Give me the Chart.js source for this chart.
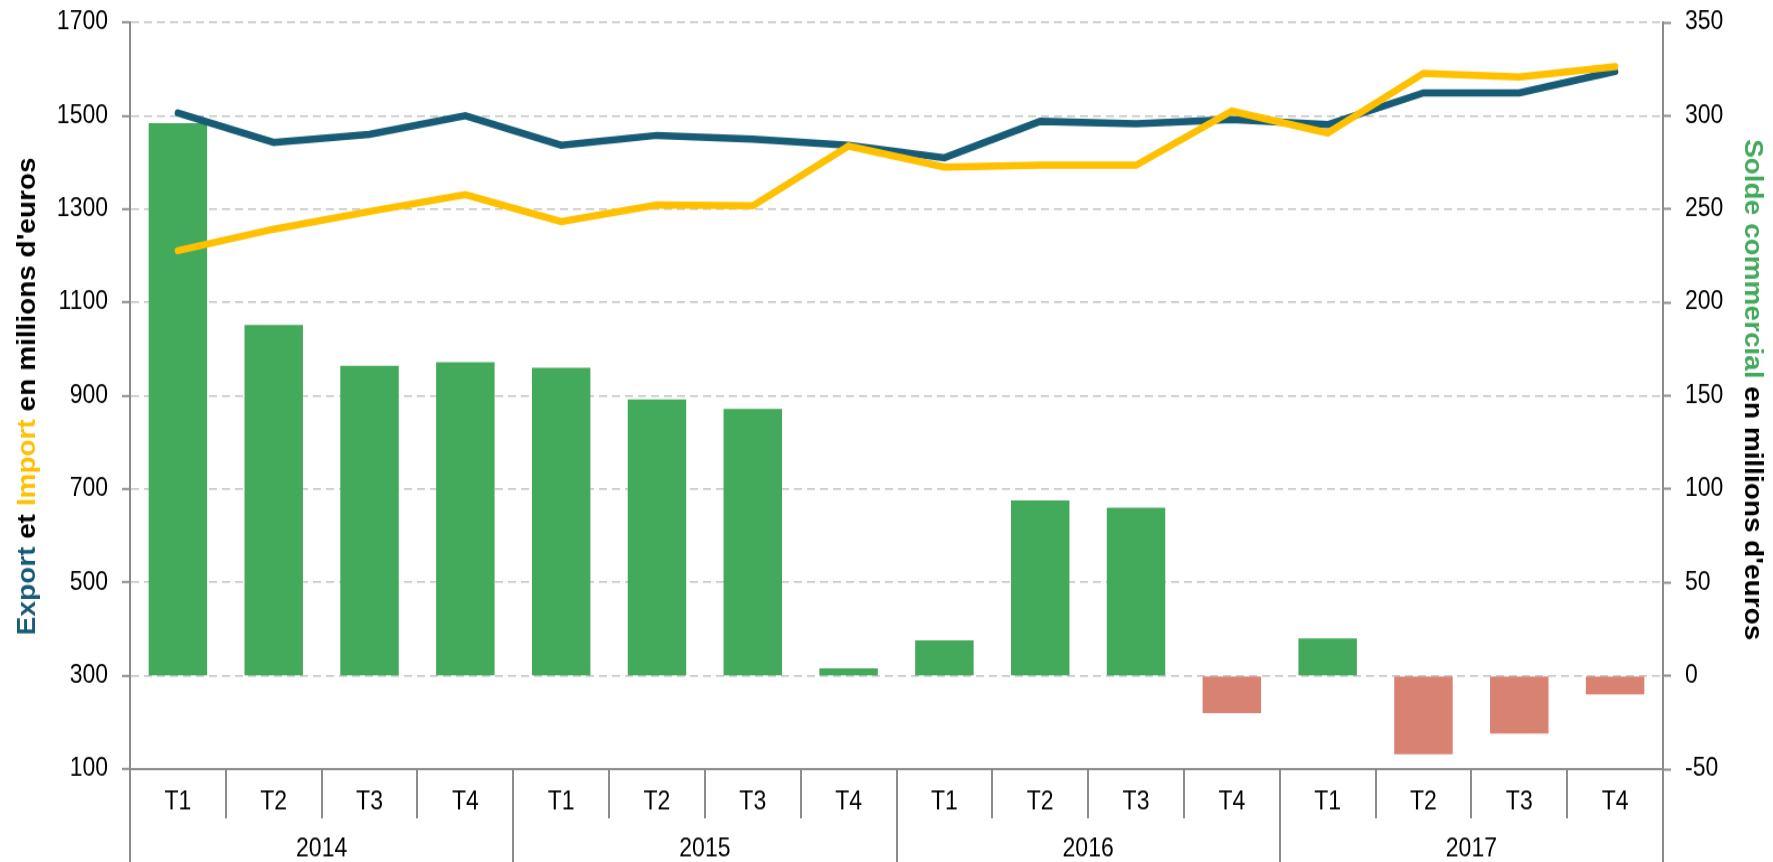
<!DOCTYPE html>
<html>
<head>
<meta charset="utf-8">
<script src="https://cdn.jsdelivr.net/npm/chart.js@4.4.0/dist/chart.umd.min.js"></script>
<style>
    html, body { margin: 0; padding: 0; background: #fff; }
    #page { width: 1773px; height: 862px; }
    /* the original picture is slightly stretched vertically */
    #wrap { width: 1773px; height: 770px; transform: scaleY(1.1195); transform-origin: 0 0; }
</style>
</head>
<body>
<div id="page"><div id="wrap"><canvas id="tradeChart" width="1773" height="770"></canvas></div></div>
<script>
// -------------------------
//      DATA
// -------------------------

const QUARTERS = ["T1", "T2", "T3", "T4", "T1", "T2", "T3", "T4", "T1", "T2", "T3", "T4", "T1", "T2", "T3", "T4"];
const YEARS = ["2014", "2015", "2016", "2017"];

// Export / Import, left axis (millions d'euros)
const EXPORT = [1506, 1443, 1460, 1500, 1437, 1458, 1450, 1437, 1410, 1488, 1483, 1492, 1481, 1549, 1549, 1595];
const IMPORT = [1211, 1257, 1295, 1331, 1273, 1309, 1307, 1435, 1390, 1394, 1394, 1510, 1463, 1591, 1583, 1605];

// Solde commercial, right axis
const SOLDE = [296, 188, 166, 168, 165, 148, 143, 4, 19, 94, 90, -20, 20, -42, -31, -10];

const LEFT_TICKS = [100, 1700, 200];   // min, max, step
const RIGHT_TICKS = [-50, 350, 50];

// -------------------------

const FONT = "'Liberation Sans', Arial, sans-serif";
const AXIS_GREY = "#8c8c8c";
const GRID_GREY = "#c3c3c3";
const TEAL = "#175b74";
const YELLOW = "#ffc000";
const GREEN = "#43a95b";
const SALMON = "#d88272";

// multi-coloured axis titles
function drawRichText(ctx, parts, cx, cy, angle) {
    ctx.save();
    ctx.translate(cx, cy);
    ctx.rotate(angle);
    ctx.font = "bold 25px " + FONT;
    ctx.textAlign = "left";
    ctx.textBaseline = "alphabetic";
    const total = parts.reduce((s, p) => s + ctx.measureText(p[0]).width, 0);
    let x = -total / 2;
    for (const [text, color] of parts) {
        ctx.fillStyle = color;
        ctx.fillText(text, x, 0);
        x += ctx.measureText(text).width;
    }
    ctx.restore();
}

const axisTitles = {
    id: "axisTitles",
    afterDraw(chart) {
        const ctx = chart.ctx;
        drawRichText(ctx, [["Export", TEAL], [" et ", "#000"], ["Import", YELLOW], [" en millions d'euros", "#000"]],
            35, 354, -Math.PI / 2);
        drawRichText(ctx, [["Solde commercial", GREEN], [" en millions d'euros", "#000"]],
            1745, 348, Math.PI / 2);
    }
};

// quarter separators + year row
const yearAxis = {
    id: "yearAxis",
    afterDraw(chart) {
        const { ctx, chartArea, scales } = chart;
        const x = scales.x;
        const n = QUARTERS.length;
        const edge = i => i === 0 ? chartArea.left
            : i === n ? chartArea.right
            : (x.getPixelForValue(i - 1) + x.getPixelForValue(i)) / 2;
        const bottom = chartArea.bottom;

        ctx.save();
        ctx.strokeStyle = AXIS_GREY;
        ctx.lineWidth = 2;
        for (let i = 0; i <= n; i++) {
            const px = Math.round(edge(i));
            ctx.beginPath();
            ctx.moveTo(px, bottom);
            ctx.lineTo(px, i % 4 === 0 ? chart.height : bottom + 44);
            ctx.stroke();
        }
        ctx.fillStyle = "#000";
        ctx.font = "23px " + FONT;
        ctx.textAlign = "center";
        ctx.textBaseline = "middle";
        YEARS.forEach((yr, k) => {
            ctx.fillText(yr, (edge(k * 4) + edge(k * 4 + 4)) / 2, bottom + 72);
        });
        ctx.restore();
    }
};

// y scales: fixed width, no extra room reserved above/below for labels
function fitY(width) {
    return scale => {
        scale.width = width;
        scale.paddingTop = 0;
        scale.paddingBottom = 0;
    };
}

const ctx = document.getElementById("tradeChart").getContext("2d");

const chart = new Chart(ctx, {
    type: "bar",
    data: {
        labels: QUARTERS,
        datasets: [
            {
                type: "line",
                label: "Import",
                data: IMPORT,
                yAxisID: "y",
                borderColor: YELLOW,
                borderWidth: 6.5,
                borderCapStyle: "round",
                pointRadius: 0,
                tension: 0,
                order: 0
            },
            {
                type: "line",
                label: "Export",
                data: EXPORT,
                yAxisID: "y",
                borderColor: TEAL,
                borderWidth: 6.5,
                borderCapStyle: "round",
                pointRadius: 0,
                tension: 0,
                order: 1
            },
            {
                type: "bar",
                label: "Solde commercial",
                data: SOLDE,
                yAxisID: "y2",
                backgroundColor: SOLDE.map(v => v < 0 ? SALMON : GREEN),
                barPercentage: 0.61,
                categoryPercentage: 1,
                order: 2
            }
        ]
    },
    options: {
        responsive: false,
        devicePixelRatio: 1,
        animation: false,
        layout: { padding: { top: 20, right: 0, bottom: 0, left: 0 } },
        plugins: {
            legend: { display: false },
            tooltip: { enabled: false }
        },
        scales: {
            x: {
                type: "category",
                offset: true,
                grid: { display: false, drawTicks: false },
                border: { display: true, color: AXIS_GREY, width: 2 },
                ticks: { color: "#000", font: { family: FONT, size: 23 }, padding: 16, maxRotation: 0, autoSkip: false },
                afterFit(scale) { scale.height = 83; }
            },
            y: {
                position: "left",
                min: LEFT_TICKS[0],
                max: LEFT_TICKS[1],
                ticks: {
                    stepSize: LEFT_TICKS[2],
                    color: "#000",
                    font: { family: FONT, size: 23 },
                    padding: 14,
                    callback: v => String(v)
                },
                grid: {
                    color: c => c.tick && c.tick.value === LEFT_TICKS[0] ? "rgba(0,0,0,0)" : GRID_GREY,
                    lineWidth: 1.6,
                    tickColor: AXIS_GREY,
                    tickLength: 8,
                    tickWidth: 2
                },
                border: { display: true, color: AXIS_GREY, width: 2, dash: [8, 5] },
                afterFit: fitY(130)
            },
            y2: {
                position: "right",
                min: RIGHT_TICKS[0],
                max: RIGHT_TICKS[1],
                ticks: {
                    stepSize: RIGHT_TICKS[2],
                    color: "#000",
                    font: { family: FONT, size: 23 },
                    padding: 14,
                    callback: v => String(v)
                },
                grid: { drawOnChartArea: false, tickColor: AXIS_GREY, tickLength: 8, tickWidth: 2 },
                border: { display: true, color: AXIS_GREY, width: 2 },
                afterFit: fitY(110)
            }
        }
    },
    plugins: [axisTitles, yearAxis]
});
</script>
</body>
</html>
